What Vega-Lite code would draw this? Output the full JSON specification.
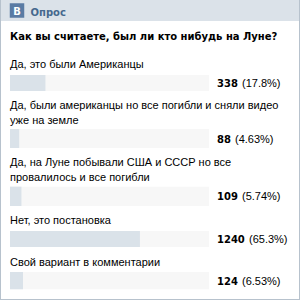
{
  "$schema": "https://vega.github.io/schema/vega-lite/v6.json",
  "background": "#b7c2cd",
  "padding": {"left": 1, "right": 1, "top": 0, "bottom": 1},
  "spacing": 0,
  "bounds": "flush",
  "config": {
    "view": {"stroke": null},
    "font": "Liberation Sans",
    "text": {"font": "Liberation Sans", "fontSize": 11, "color": "#000000"}
  },
  "vconcat": [
    {
      "width": 298,
      "height": 21,
      "view": {"fill": "#dbe2e9", "stroke": null},
      "data": {"values": [{"part": "logo", "text": "В"}, {"part": "title", "text": "Опрос"}]},
      "encoding": {
        "x": {"field": "part", "type": "nominal", "axis": null, "scale": {"type": "point", "domain": ["logo", "title"], "range": [16, 29.5], "padding": 0}}
      },
      "layer": [
        {"transform": [{"filter": "datum.part === 'logo'"}], "mark": {"type": "square", "size": 210, "color": "#5a7ba4", "opacity": 1}},
        {"transform": [{"filter": "datum.part === 'logo'"}], "mark": {"type": "text", "color": "#ffffff", "font": "DejaVu Sans", "fontSize": 10, "fontWeight": "bold", "align": "center", "baseline": "middle", "dy": 1}, "encoding": {"text": {"field": "text"}}},
        {"transform": [{"filter": "datum.part === 'title'"}], "mark": {"type": "text", "color": "#45688e", "font": "DejaVu Sans", "fontSize": 10, "fontWeight": "bold", "align": "left", "baseline": "middle", "dy": 2}, "encoding": {"text": {"field": "text"}}}
      ]
    },
    {
      "spacing": 0,
      "bounds": "flush",
      "data": {"values": [
        {"option": "Да, это были Американцы", "votes": 338, "pct": 17.8},
        {"option": "Да, были американцы но все погибли и сняли видео\nуже на земле", "votes": 88, "pct": 4.63},
        {"option": "Да, на Луне побывали США и СССР но все\nпровалилось и все погибли", "votes": 109, "pct": 5.74},
        {"option": "Нет, это постановка", "votes": 1240, "pct": 65.3},
        {"option": "Свой вариант в комментарии", "votes": 124, "pct": 6.53}
      ]},
      "vconcat": [
        {
          "width": 298, "height": 32,
          "view": {"fill": "#ffffff", "stroke": null},
          "data": {"values": [{"question": "Как вы считаете, был ли кто нибудь на Луне?"}]},
          "mark": {"type": "text", "font": "DejaVu Sans", "fontSize": 10, "fontWeight": "bold", "align": "left", "baseline": "middle"},
          "encoding": {
            "x": {"datum": 0, "type": "quantitative", "axis": null, "scale": {"domain": [0, 100], "range": [9, 208]}},
            "text": {"field": "question"}
          }
        },
        {
          "width": 298, "height": 38,
          "view": {"fill": "#ffffff", "stroke": null},
          "transform": [{"filter": "datum.votes === 338"}, {"calculate": "'(' + format(datum.pct, '.3r') + '%)'", "as": "pctText"}],
          "encoding": {"y": {"field": "option", "type": "nominal", "axis": null, "scale": {"paddingInner": 0, "paddingOuter": 0.6875, "align": 1}}},
          "layer": [
            {"mark": {"type": "bar", "color": "#f7f7f7"}, "encoding": {"x": {"datum": 0, "type": "quantitative", "axis": null, "scale": {"domain": [0, 100], "range": [9, 208]}}, "x2": {"datum": 100}}},
            {"mark": {"type": "bar", "color": "#dae2e9"}, "encoding": {"x": {"field": "pct", "type": "quantitative", "stack": null, "axis": null, "scale": {"domain": [0, 100], "range": [9, 208]}}}},
            {"mark": {"type": "text", "align": "left", "baseline": "bottom", "dy": -13, "lineBreak": "\n", "lineHeight": 15}, "encoding": {"x": {"datum": 0, "type": "quantitative"}, "text": {"field": "option"}}},
            {"mark": {"type": "text", "align": "left", "baseline": "middle", "font": "DejaVu Sans", "fontSize": 10, "fontWeight": "bold", "dx": 8, "dy": 1}, "encoding": {"x": {"datum": 100, "type": "quantitative"}, "text": {"field": "votes", "type": "nominal"}}},
            {"mark": {"type": "text", "align": "left", "baseline": "middle", "dx": {"expr": "12 + 7 * length(toString(datum.votes))"}, "dy": 1}, "encoding": {"x": {"datum": 100, "type": "quantitative"}, "text": {"field": "pctText"}}}
          ]
        },
        {
          "width": 298, "height": 57,
          "view": {"fill": "#ffffff", "stroke": null},
          "transform": [{"filter": "datum.votes === 88"}, {"calculate": "'(' + format(datum.pct, '.3r') + '%)'", "as": "pctText"}],
          "encoding": {"y": {"field": "option", "type": "nominal", "axis": null, "scale": {"paddingInner": 0, "paddingOuter": 1.28125, "align": 1}}},
          "layer": [
            {"mark": {"type": "bar", "color": "#f7f7f7"}, "encoding": {"x": {"datum": 0, "type": "quantitative", "axis": null, "scale": {"domain": [0, 100], "range": [9, 208]}}, "x2": {"datum": 100}}},
            {"mark": {"type": "bar", "color": "#dae2e9"}, "encoding": {"x": {"field": "pct", "type": "quantitative", "stack": null, "axis": null, "scale": {"domain": [0, 100], "range": [9, 208]}}}},
            {"mark": {"type": "text", "align": "left", "baseline": "bottom", "dy": -28, "lineBreak": "\n", "lineHeight": 15}, "encoding": {"x": {"datum": 0, "type": "quantitative"}, "text": {"field": "option"}}},
            {"mark": {"type": "text", "align": "left", "baseline": "middle", "font": "DejaVu Sans", "fontSize": 10, "fontWeight": "bold", "dx": 8, "dy": 1}, "encoding": {"x": {"datum": 100, "type": "quantitative"}, "text": {"field": "votes", "type": "nominal"}}},
            {"mark": {"type": "text", "align": "left", "baseline": "middle", "dx": {"expr": "12 + 7 * length(toString(datum.votes))"}, "dy": 1}, "encoding": {"x": {"datum": 100, "type": "quantitative"}, "text": {"field": "pctText"}}}
          ]
        },
        {
          "width": 298, "height": 58,
          "view": {"fill": "#ffffff", "stroke": null},
          "transform": [{"filter": "datum.votes === 109"}, {"calculate": "'(' + format(datum.pct, '.3r') + '%)'", "as": "pctText"}],
          "encoding": {"y": {"field": "option", "type": "nominal", "axis": null, "scale": {"paddingInner": 0, "paddingOuter": 1.3125, "align": 1}}},
          "layer": [
            {"mark": {"type": "bar", "color": "#f7f7f7"}, "encoding": {"x": {"datum": 0, "type": "quantitative", "axis": null, "scale": {"domain": [0, 100], "range": [9, 208]}}, "x2": {"datum": 100}}},
            {"mark": {"type": "bar", "color": "#dae2e9"}, "encoding": {"x": {"field": "pct", "type": "quantitative", "stack": null, "axis": null, "scale": {"domain": [0, 100], "range": [9, 208]}}}},
            {"mark": {"type": "text", "align": "left", "baseline": "bottom", "dy": -28, "lineBreak": "\n", "lineHeight": 15}, "encoding": {"x": {"datum": 0, "type": "quantitative"}, "text": {"field": "option"}}},
            {"mark": {"type": "text", "align": "left", "baseline": "middle", "font": "DejaVu Sans", "fontSize": 10, "fontWeight": "bold", "dx": 8, "dy": 1}, "encoding": {"x": {"datum": 100, "type": "quantitative"}, "text": {"field": "votes", "type": "nominal"}}},
            {"mark": {"type": "text", "align": "left", "baseline": "middle", "dx": {"expr": "12 + 7 * length(toString(datum.votes))"}, "dy": 1}, "encoding": {"x": {"datum": 100, "type": "quantitative"}, "text": {"field": "pctText"}}}
          ]
        },
        {
          "width": 298, "height": 41,
          "view": {"fill": "#ffffff", "stroke": null},
          "transform": [{"filter": "datum.votes === 1240"}, {"calculate": "'(' + format(datum.pct, '.3r') + '%)'", "as": "pctText"}],
          "encoding": {"y": {"field": "option", "type": "nominal", "axis": null, "scale": {"paddingInner": 0, "paddingOuter": 0.78125, "align": 1}}},
          "layer": [
            {"mark": {"type": "bar", "color": "#f7f7f7"}, "encoding": {"x": {"datum": 0, "type": "quantitative", "axis": null, "scale": {"domain": [0, 100], "range": [9, 208]}}, "x2": {"datum": 100}}},
            {"mark": {"type": "bar", "color": "#dae2e9"}, "encoding": {"x": {"field": "pct", "type": "quantitative", "stack": null, "axis": null, "scale": {"domain": [0, 100], "range": [9, 208]}}}},
            {"mark": {"type": "text", "align": "left", "baseline": "bottom", "dy": -13, "lineBreak": "\n", "lineHeight": 15}, "encoding": {"x": {"datum": 0, "type": "quantitative"}, "text": {"field": "option"}}},
            {"mark": {"type": "text", "align": "left", "baseline": "middle", "font": "DejaVu Sans", "fontSize": 10, "fontWeight": "bold", "dx": 8, "dy": 1}, "encoding": {"x": {"datum": 100, "type": "quantitative"}, "text": {"field": "votes", "type": "nominal"}}},
            {"mark": {"type": "text", "align": "left", "baseline": "middle", "dx": {"expr": "12 + 7 * length(toString(datum.votes))"}, "dy": 1}, "encoding": {"x": {"datum": 100, "type": "quantitative"}, "text": {"field": "pctText"}}}
          ]
        },
        {
          "width": 298, "height": 52,
          "view": {"fill": "#ffffff", "stroke": null},
          "transform": [{"filter": "datum.votes === 124"}, {"calculate": "'(' + format(datum.pct, '.3r') + '%)'", "as": "pctText"}],
          "encoding": {"y": {"field": "option", "type": "nominal", "axis": null, "scale": {"paddingInner": 0, "paddingOuter": 1.125, "align": 0.7222}}},
          "layer": [
            {"mark": {"type": "bar", "color": "#f7f7f7"}, "encoding": {"x": {"datum": 0, "type": "quantitative", "axis": null, "scale": {"domain": [0, 100], "range": [9, 208]}}, "x2": {"datum": 100}}},
            {"mark": {"type": "bar", "color": "#dae2e9"}, "encoding": {"x": {"field": "pct", "type": "quantitative", "stack": null, "axis": null, "scale": {"domain": [0, 100], "range": [9, 208]}}}},
            {"mark": {"type": "text", "align": "left", "baseline": "bottom", "dy": -13, "lineBreak": "\n", "lineHeight": 15}, "encoding": {"x": {"datum": 0, "type": "quantitative"}, "text": {"field": "option"}}},
            {"mark": {"type": "text", "align": "left", "baseline": "middle", "font": "DejaVu Sans", "fontSize": 10, "fontWeight": "bold", "dx": 8, "dy": 1}, "encoding": {"x": {"datum": 100, "type": "quantitative"}, "text": {"field": "votes", "type": "nominal"}}},
            {"mark": {"type": "text", "align": "left", "baseline": "middle", "dx": {"expr": "12 + 7 * length(toString(datum.votes))"}, "dy": 1}, "encoding": {"x": {"datum": 100, "type": "quantitative"}, "text": {"field": "pctText"}}}
          ]
        }
      ]
    }
  ]
}
